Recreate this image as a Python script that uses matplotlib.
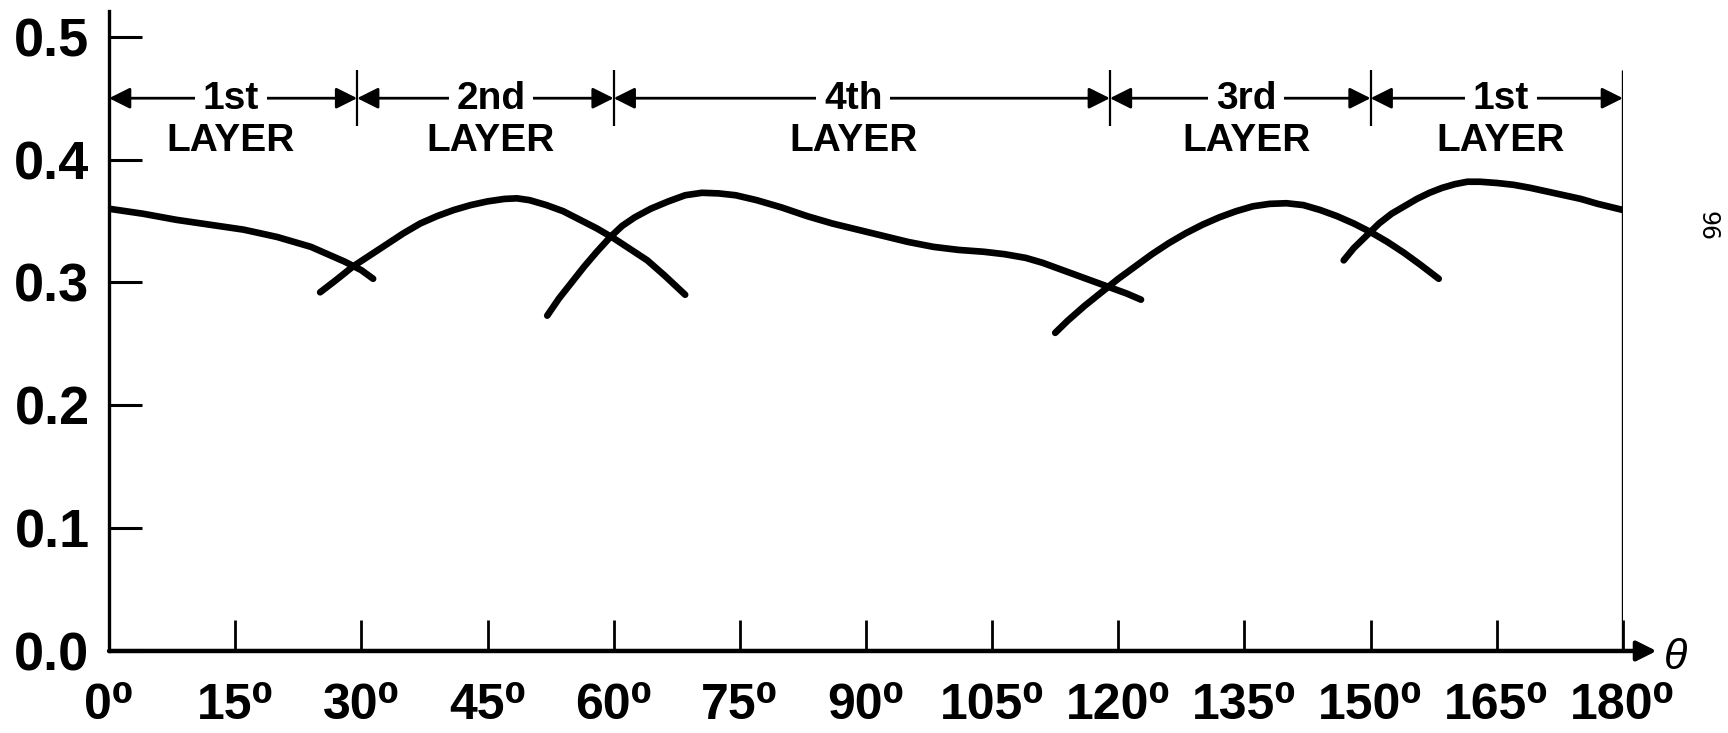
"""Layer-by-layer response vs. angle theta (re-drawn figure)."""

import matplotlib

matplotlib.use("Agg")
import matplotlib.pyplot as plt

plt.rcParams["font.family"] = ["Liberation Sans", "DejaVu Sans"]
plt.rcParams["font.weight"] = "bold"

# curve segments (theta in degrees, value)
layer1_left_x = [0, 2, 4, 6, 8, 10, 12, 14, 16, 18, 20, 22, 24, 26, 28, 30, 31.4]
layer1_left_y = [0.360, 0.358, 0.356, 0.3535, 0.351, 0.349, 0.347, 0.345, 0.343, 0.340,
                 0.337, 0.333, 0.329, 0.323, 0.317, 0.310, 0.303]

layer2_x = [25.1, 27, 29, 31, 33, 35, 37, 39, 41, 43, 45, 47, 48.5, 50, 52, 54, 56, 58,
            60, 62, 64, 66, 68.5]
layer2_y = [0.292, 0.302, 0.313, 0.322, 0.331, 0.340, 0.348, 0.354, 0.359, 0.363, 0.366,
            0.368, 0.3685, 0.367, 0.363, 0.358, 0.351, 0.344, 0.336, 0.327, 0.318, 0.306,
            0.290]

layer4_x = [52.1, 53.5, 55, 56.5, 58, 59.6, 61, 62.5, 64.4, 66.5, 68.5, 70.5, 72.5, 74.5,
            77, 80, 83, 86, 89, 92, 95, 98, 101, 104, 106.5, 109, 111, 113, 115, 117,
            119, 121, 122.7]
layer4_y = [0.273, 0.287, 0.300, 0.313, 0.325, 0.337, 0.346, 0.353, 0.360, 0.366, 0.371,
            0.373, 0.3725, 0.371, 0.367, 0.361, 0.354, 0.348, 0.343, 0.338, 0.333, 0.329,
            0.3265, 0.325, 0.323, 0.320, 0.316, 0.311, 0.306, 0.301, 0.296, 0.291, 0.286]

layer3_x = [112.5, 114, 116, 118, 120, 122, 124, 126, 128, 130, 132, 134, 136, 138, 140,
            142, 144, 146, 148, 150, 152, 154, 156, 158.1]
layer3_y = [0.259, 0.269, 0.281, 0.292, 0.303, 0.313, 0.323, 0.332, 0.340, 0.347, 0.353,
            0.358, 0.362, 0.364, 0.3645, 0.363, 0.359, 0.354, 0.348, 0.341, 0.333, 0.324,
            0.314, 0.303]

layer1_right_x = [146.8, 148, 149.5, 151, 152.5, 154, 155.5, 157, 158.5, 160, 161.5, 163,
                  165, 167, 169, 171, 173, 175, 177, 178.5, 180]
layer1_right_y = [0.318, 0.328, 0.338, 0.348, 0.356, 0.362, 0.368, 0.373, 0.377, 0.380,
                  0.382, 0.382, 0.381, 0.3795, 0.377, 0.374, 0.371, 0.368, 0.364, 0.3615,
                  0.359]

# layer bands across the top
band_edges = [0, 29.5, 60, 119, 150, 180]
band_names = ["1st", "2nd", "4th", "3rd", "1st"]
band_centers = [14.5, 45.4, 88.5, 135.2, 165.5]

x_ticks = [0, 15, 30, 45, 60, 75, 90, 105, 120, 135, 150, 165, 180]
x_tick_labels = ["0⁰", "15⁰", "30⁰", "45⁰", "60⁰", "75⁰", "90⁰", "105⁰", "120⁰",
                 "135⁰", "150⁰", "165⁰", "180⁰"]
y_ticks = [0.0, 0.1, 0.2, 0.3, 0.4, 0.5]
y_tick_labels = ["0.0", "0.1", "0.2", "0.3", "0.4", "0.5"]

fig = plt.figure(figsize=(17.28, 7.33), dpi=100)
ax = fig.add_axes([0.0631, 0.1119, 0.8761, 0.8731])
ax.set_xlim(0, 180)
ax.set_ylim(0, 0.521)

for side in ["top", "right", "bottom"]:
    ax.spines[side].set_visible(False)
ax.spines["left"].set_linewidth(2.4)

segments = [
    (layer1_left_x, layer1_left_y),
    (layer2_x, layer2_y),
    (layer4_x, layer4_y),
    (layer3_x, layer3_y),
    (layer1_right_x, layer1_right_y),
]
for xs, ys in segments:
    ax.plot(xs, ys, color="black", lw=4.8, solid_capstyle="round", solid_joinstyle="round")

# x axis with arrow
ax.annotate("", xy=(184.0, 0), xytext=(0, 0), annotation_clip=False,
            arrowprops=dict(arrowstyle="-|>", lw=3.2, color="black",
                            shrinkA=0, shrinkB=0, mutation_scale=30))
ax.text(186.2, -0.006, "θ", fontsize=31, fontweight="normal", style="italic",
        ha="center", va="center", clip_on=False)

# right boundary and band separators
ax.vlines(180, 0, 0.473, color="black", lw=2.4)
ax.vlines(band_edges[1:-1], 0.427, 0.473, color="black", lw=1.6)

for i, name in enumerate(band_names):
    a, b = band_edges[i], band_edges[i + 1]
    ax.annotate("", xy=(a, 0.45), xytext=(b, 0.45),
                arrowprops=dict(arrowstyle="<|-|>", lw=2, color="black",
                                shrinkA=0, shrinkB=0, mutation_scale=32))
    ax.text(band_centers[i], 0.449, name, fontsize=28, ha="center", va="center", zorder=4,
            bbox=dict(boxstyle="square,pad=0.2", fc="white", ec="none"))
    ax.text(band_centers[i], 0.415, "LAYER", fontsize=28, ha="center", va="center", zorder=5)

ax.set_xticks(x_ticks)
ax.set_xticklabels(x_tick_labels)
ax.set_yticks(y_ticks)
ax.set_yticklabels(y_tick_labels)
ax.tick_params(axis="x", direction="in", length=22, width=2, labelsize=36, pad=23)
ax.tick_params(axis="y", direction="in", length=24, width=2.2, labelsize=39, pad=14)

fig.text(1708 / 1728, 1 - 226 / 733, "96", rotation=-90, fontsize=17, fontweight="normal",
         family="DejaVu Sans", ha="center", va="center")

fig.savefig("out.png", dpi=100)
plt.close(fig)
